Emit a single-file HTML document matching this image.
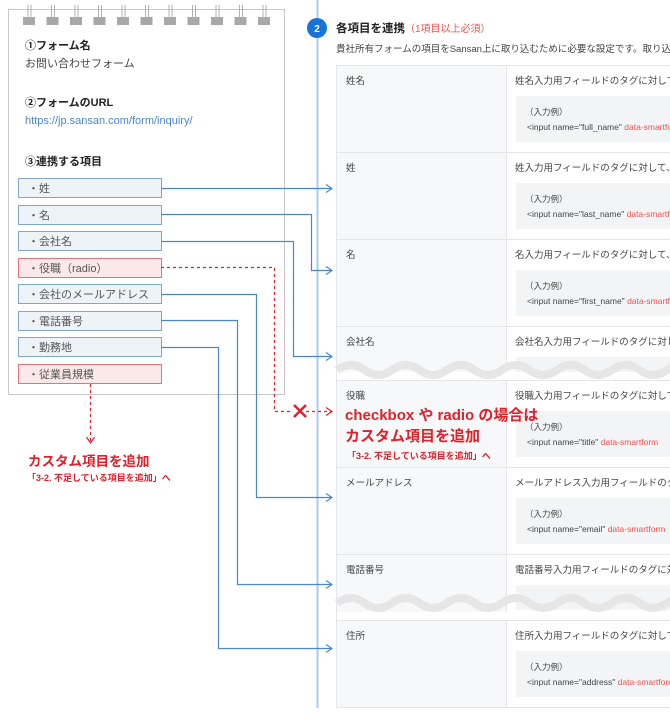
<!DOCTYPE html>
<html><head><meta charset="utf-8">
<style>
html,body{margin:0;padding:0;background:#fff;}
svg{display:block;font-family:"Liberation Sans","Noto Sans CJK JP",sans-serif;}
</style></head><body>
<svg width="670" height="720" viewBox="0 0 670 720" xmlns="http://www.w3.org/2000/svg">
<defs>
<marker id="ab" markerWidth="8" markerHeight="10" refX="7" refY="5" orient="auto" markerUnits="userSpaceOnUse"><path d="M1,1 L7,5 L1,9" fill="none" stroke="#4a86c8" stroke-width="1.2"/></marker>
<marker id="ar" markerWidth="8" markerHeight="10" refX="7" refY="5" orient="auto" markerUnits="userSpaceOnUse"><path d="M1,1 L7,5 L1,9" fill="none" stroke="#e0202a" stroke-width="1.2"/></marker>
</defs>
<rect x="8.5" y="9.5" width="276" height="385" fill="#fff" stroke="#c8c8c8"/>
<g fill="#a8a8a8">
<rect x="23" y="17" width="12" height="8"/><rect x="46.5" y="17" width="12" height="8"/><rect x="70" y="17" width="12" height="8"/><rect x="93.5" y="17" width="12" height="8"/><rect x="117" y="17" width="12" height="8"/><rect x="140.5" y="17" width="12" height="8"/><rect x="164" y="17" width="12" height="8"/><rect x="187.5" y="17" width="12" height="8"/><rect x="211" y="17" width="12" height="8"/><rect x="234.5" y="17" width="12" height="8"/><rect x="258" y="17" width="12" height="8"/>
</g>
<g stroke="#b0b0b0" stroke-width="1">
<path d="M28,5V19M31,5V19M51.5,5V19M54.5,5V19M75,5V19M78,5V19M98.5,5V19M101.5,5V19M122,5V19M125,5V19M145.5,5V19M148.5,5V19M169,5V19M172,5V19M192.5,5V19M195.5,5V19M216,5V19M219,5V19M239.5,5V19M242.5,5V19M263,5V19M266,5V19"/>
</g>
<text x="25" y="49" font-size="11" font-weight="bold" fill="#222">①フォーム名</text>
<text x="25" y="67" font-size="11" fill="#444">お問い合わせフォーム</text>
<text x="25" y="106" font-size="11" font-weight="bold" fill="#222">②フォームのURL</text>
<text x="25" y="124" font-size="11" fill="#4a86c8">https://jp.sansan.com/form/inquiry/</text>
<text x="25" y="165" font-size="11" font-weight="bold" fill="#222">③連携する項目</text>
<g font-size="11" fill="#555">
<rect x="18.5" y="178.5" width="143" height="19" fill="#eef3f8" stroke="#7fa7d3"/><text x="28" y="192">・姓</text>
<rect x="18.5" y="205.5" width="143" height="19" fill="#eef3f8" stroke="#7fa7d3"/><text x="28" y="219">・名</text>
<rect x="18.5" y="231.5" width="143" height="19" fill="#eef3f8" stroke="#7fa7d3"/><text x="28" y="245">・会社名</text>
<rect x="18.5" y="258.5" width="143" height="19" fill="#fbe9ea" stroke="#e0747a"/><text x="28" y="272">・役職（radio）</text>
<rect x="18.5" y="284.5" width="143" height="19" fill="#eef3f8" stroke="#7fa7d3"/><text x="28" y="298">・会社のメールアドレス</text>
<rect x="18.5" y="311.5" width="143" height="19" fill="#eef3f8" stroke="#7fa7d3"/><text x="28" y="325">・電話番号</text>
<rect x="18.5" y="337.5" width="143" height="19" fill="#eef3f8" stroke="#7fa7d3"/><text x="28" y="351">・勤務地</text>
<rect x="18.5" y="364.5" width="143" height="19" fill="#fbe9ea" stroke="#e0747a"/><text x="28" y="378">・従業員規模</text>
</g>
<line x1="317.5" y1="0" x2="317.5" y2="708" stroke="#a9cbee" stroke-width="2"/>
<circle cx="317" cy="28" r="10" fill="#1a73d9"/>
<text x="317" y="32" font-size="10" font-weight="bold" fill="#fff" text-anchor="middle">2</text>
<text x="336" y="32" font-size="11.5" font-weight="bold" fill="#222">各項目を連携<tspan font-weight="normal" font-size="10" fill="#ef5350">（1項目以上必須）</tspan></text>
<text x="336" y="52" font-size="9.5" fill="#444">貴社所有フォームの項目をSansan上に取り込むために必要な設定です。取り込みたい</text>
<rect x="336" y="65" width="334" height="643" fill="#f7f8fa"/>
<rect x="506" y="65" width="164" height="643" fill="#fff"/>
<g stroke="#e4e6ea" stroke-width="1">
<line x1="336" y1="65.5" x2="670" y2="65.5"/>
<line x1="336" y1="152.5" x2="670" y2="152.5"/>
<line x1="336" y1="239.5" x2="670" y2="239.5"/>
<line x1="336" y1="326.5" x2="670" y2="326.5"/>
<line x1="336" y1="380.5" x2="670" y2="380.5"/>
<line x1="336" y1="467.5" x2="670" y2="467.5"/>
<line x1="336" y1="554.5" x2="670" y2="554.5"/>
<line x1="336" y1="620.5" x2="670" y2="620.5"/>
<line x1="336" y1="707.5" x2="670" y2="707.5"/>
<line x1="506.5" y1="65" x2="506.5" y2="708"/>
<line x1="336.5" y1="65" x2="336.5" y2="708"/>
</g>
<g fill="#f3f4f6">
<rect x="516" y="96" width="154" height="46"/>
<rect x="516" y="183" width="154" height="46"/>
<rect x="516" y="270" width="154" height="46"/>
<rect x="516" y="357" width="154" height="20"/>
<rect x="516" y="411" width="154" height="46"/>
<rect x="516" y="498" width="154" height="46"/>
<rect x="516" y="585" width="154" height="25"/>
<rect x="516" y="651" width="154" height="46"/>
</g>
<g font-size="9.5" fill="#444">
<text x="346" y="84">姓名</text><text x="515" y="84">姓名入力用フィールドのタグに対して</text>
<text x="346" y="171">姓</text><text x="515" y="171">姓入力用フィールドのタグに対して、</text>
<text x="346" y="258">名</text><text x="515" y="258">名入力用フィールドのタグに対して、</text>
<text x="346" y="345">会社名</text><text x="515" y="345">会社名入力用フィールドのタグに対し</text>
<text x="346" y="399">役職</text><text x="515" y="399">役職入力用フィールドのタグに対して</text>
<text x="346" y="486">メールアドレス</text><text x="515" y="486">メールアドレス入力用フィールドのタ</text>
<text x="346" y="573">電話番号</text><text x="515" y="573">電話番号入力用フィールドのタグに対</text>
<text x="346" y="639">住所</text><text x="515" y="639">住所入力用フィールドのタグに対して</text>
</g>
<g font-size="8.5" fill="#444">
<text x="525" y="115">（入力例）</text><text x="527" y="130">&lt;input name="full_name" <tspan fill="#ef5350">data-smartform</tspan></text>
<text x="525" y="202">（入力例）</text><text x="527" y="217">&lt;input name="last_name" <tspan fill="#ef5350">data-smartform</tspan></text>
<text x="525" y="289">（入力例）</text><text x="527" y="304">&lt;input name="first_name" <tspan fill="#ef5350">data-smartform</tspan></text>
<text x="525" y="430">（入力例）</text><text x="527" y="445">&lt;input name="title" <tspan fill="#ef5350">data-smartform</tspan></text>
<text x="525" y="517">（入力例）</text><text x="527" y="532">&lt;input name="email" <tspan fill="#ef5350">data-smartform</tspan></text>
<text x="525" y="670">（入力例）</text><text x="527" y="685">&lt;input name="address" <tspan fill="#ef5350">data-smartform</tspan></text>
</g>
<rect x="337" y="372" width="333" height="8" fill="#fff"/>
<path d="M337,370 q13.75,-10 27.5,0 t27.5,0 t27.5,0 t27.5,0 t27.5,0 t27.5,0 t27.5,0 t27.5,0 t27.5,0 t27.5,0 t27.5,0 t27.5,0 t27.5,0" fill="none" stroke="#e6e6e6" stroke-width="8"/>
<rect x="337" y="612" width="333" height="8" fill="#fff"/>
<path d="M337,603 q13.75,-10 27.5,0 t27.5,0 t27.5,0 t27.5,0 t27.5,0 t27.5,0 t27.5,0 t27.5,0 t27.5,0 t27.5,0 t27.5,0 t27.5,0 t27.5,0" fill="none" stroke="#e6e6e6" stroke-width="8"/>
<g fill="none" stroke="#4a86c8" stroke-width="1.2" marker-end="url(#ab)">
<path d="M161,188.5H332"/>
<path d="M161,214.5H311.5V270.5H332"/>
<path d="M161,241.5H293.5V356.5H332"/>
<path d="M161,294.5H256.5V497.5H332"/>
<path d="M161,320.5H237.5V584.5H332"/>
<path d="M161,347.5H218.5V648.5H332"/>
</g>
<g fill="none" stroke="#e0202a" stroke-width="1.2" stroke-dasharray="3,3">
<path d="M161,267.5H274.5V411.5H292"/>
<path d="M306,411.5H332" marker-end="url(#ar)"/>
<path d="M90.5,384V443" marker-end="url(#ar)"/>
</g>
<path d="M294,405L306,417M306,405L294,417" stroke="#e0202a" stroke-width="2.5"/>
<g fill="#e0202a" font-weight="bold">
<text x="28" y="466" font-size="13.5">カスタム項目を追加</text>
<text x="27" y="481" font-size="9">「3-2. 不足している項目を追加」へ</text>
<text x="345" y="420" font-size="15">checkbox や radio の場合は</text>
<text x="345" y="441" font-size="15">カスタム項目を追加</text>
<text x="347" y="459" font-size="9">「3-2. 不足している項目を追加」へ</text>
</g>
</svg>
</body></html>
